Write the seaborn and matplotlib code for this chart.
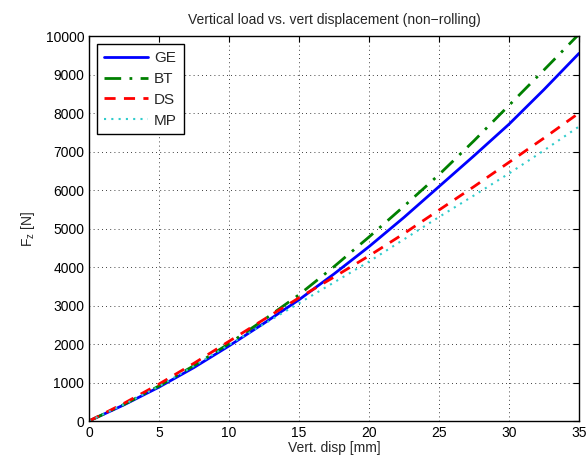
import numpy as np
import pandas as pd
import matplotlib
matplotlib.use("Agg")
import matplotlib.pyplot as plt
import seaborn as sns

# vertical displacement [mm]
disp = [0, 2.5, 5, 7.5, 10, 12.5, 15, 17.5, 20, 22.5, 25, 27.5, 30, 32.5, 35]

# vertical load [N] per tyre model
ge = [0, 420, 880, 1390, 1950, 2540, 3150, 3820, 4530, 5290, 6090, 6890, 7710, 8610, 9550]
bt = [0, 430, 910, 1440, 2010, 2630, 3280, 4010, 4780, 5580, 6400, 7280, 8200, 9120, 10050]
ds = [0, 460, 960, 1500, 2070, 2640, 3200, 3740, 4290, 4870, 5480, 6090, 6720, 7350, 8000]
mp = [0, 430, 900, 1430, 1980, 2520, 3060, 3600, 4140, 4720, 5300, 5860, 6430, 7030, 7650]

models = ["GE", "BT", "DS", "MP"]

df = pd.DataFrame({"disp": disp, "GE": ge, "BT": bt, "DS": ds, "MP": mp})
long = df.melt(id_vars="disp", var_name="model", value_name="Fz")

sns.set_style("white")
plt.rcParams["font.family"] = ["Liberation Sans", "DejaVu Sans"]
plt.rcParams["font.size"] = 10

fig = plt.figure(figsize=(5.87, 4.62), dpi=100)
ax = fig.add_axes([0.1516, 0.0887, 0.8348, 0.8333])

styles = {
    "GE": dict(color="#0000ff", linestyle="-", linewidth=2),
    "BT": dict(color="#008000", linestyle=(0, (6, 3, 1, 3)), linewidth=2),
    "DS": dict(color="#ff0000", linestyle=(0, (4, 3)), linewidth=2),
    "MP": dict(color="#30cccc", linestyle=(0, (1, 2.5)), linewidth=1.5),
}

for m in models:
    sns.lineplot(data=long[long["model"] == m], x="disp", y="Fz", ax=ax,
                 label=m, **styles[m])

ax.set_xlim(0, 35)
ax.set_ylim(0, 10000)
ax.set_xticks(np.arange(0, 36, 5))
ax.set_yticks(np.arange(0, 10001, 1000))
ax.grid(True, color="black", linestyle=(0, (1, 4)), linewidth=0.6)
ax.tick_params(direction="in", top=True, right=True, length=4, width=0.8,
               labelsize=10, colors="black")
for s in ax.spines.values():
    s.set_linewidth(1.0)
    s.set_color("black")

ax.set_xlabel("Vert. disp [mm]", fontsize=10, labelpad=1)
ax.set_ylabel(r"F$_\mathregular{z}$ [N]", fontsize=10, labelpad=6)
ax.set_title("Vertical load vs. vert displacement (non\u2212rolling)", fontsize=10, pad=9)

leg = ax.legend(loc="upper left", fontsize=11, handlelength=2.9, handletextpad=0.4,
                borderpad=0.45, labelspacing=0.45, fancybox=False,
                borderaxespad=0, bbox_to_anchor=(0.016, 0.979))
leg.get_frame().set_edgecolor("black")
leg.get_frame().set_linewidth(1.0)
leg.get_frame().set_alpha(1)

fig.savefig("out.png", dpi=100)
